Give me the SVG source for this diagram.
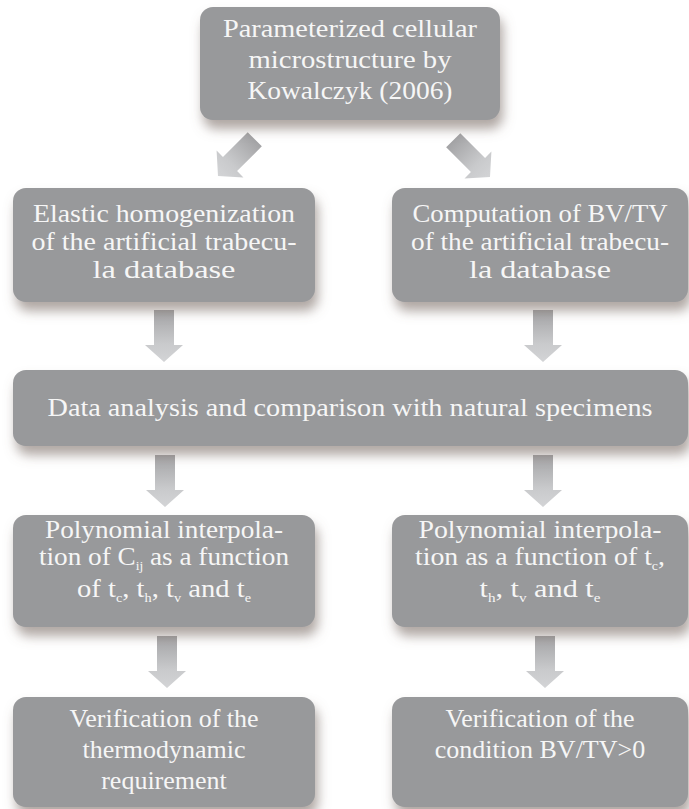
<svg xmlns="http://www.w3.org/2000/svg" width="689" height="809" viewBox="0 0 689 809">
<defs>
<linearGradient id="ag" x1="0" y1="0" x2="0" y2="1">
<stop offset="0" stop-color="#a3a3a5"/>
<stop offset="0.65" stop-color="#c9cacc"/>
<stop offset="1" stop-color="#d3d4d6"/>
</linearGradient>
<filter id="sh" x="-10%" y="-20%" width="125%" height="160%">
<feDropShadow dx="3" dy="9" stdDeviation="6" flood-color="#7a6d66" flood-opacity="0.6"/>
</filter>
<path id="arr" d="M-10,-52 H10 V-17 H19 L0,0 L-19,-17 H-10 Z"/>
</defs>
<style>
.box{fill:#98999b;filter:url(#sh)}
.t{font-family:"Liberation Serif","Times New Roman",serif;font-size:26px;fill:#f6f6f6;text-anchor:middle}
.s{font-size:13px}
.a{fill:url(#ag)}
</style>
<rect width="689" height="809" fill="#ffffff"/>
<g id="connectors">
<use href="#arr" class="a" transform="translate(218,176) rotate(45)"/>
<use href="#arr" class="a" transform="translate(490,177) rotate(-45)"/>
<use href="#arr" class="a" transform="translate(164,362)"/>
<use href="#arr" class="a" transform="translate(543,362)"/>
<use href="#arr" class="a" transform="translate(165,507)"/>
<use href="#arr" class="a" transform="translate(543,507)"/>
<use href="#arr" class="a" transform="translate(167,688)"/>
<use href="#arr" class="a" transform="translate(545,688)"/>
</g>
<g id="n1">
<rect class="box" x="200" y="7" width="300" height="113" rx="13"/>
<text class="t" x="350" y="37" textLength="254" lengthAdjust="spacingAndGlyphs">Parameterized cellular</text>
<text class="t" x="350" y="68" textLength="203" lengthAdjust="spacingAndGlyphs">microstructure by</text>
<text class="t" x="350" y="99" textLength="205" lengthAdjust="spacingAndGlyphs">Kowalczyk (2006)</text>
</g>
<g id="n2">
<rect class="box" x="13" y="188" width="302" height="114" rx="13"/>
<text class="t" x="164" y="222" textLength="262" lengthAdjust="spacingAndGlyphs">Elastic homogenization</text>
<text class="t" x="164" y="250" textLength="265" lengthAdjust="spacingAndGlyphs">of the artificial trabecu-</text>
<text class="t" x="164" y="278" textLength="143" lengthAdjust="spacingAndGlyphs">la database</text>
</g>
<g id="n3">
<rect class="box" x="392" y="188" width="296" height="114" rx="13"/>
<text class="t" x="540" y="222" textLength="255" lengthAdjust="spacingAndGlyphs">Computation of BV/TV</text>
<text class="t" x="540" y="250" textLength="258" lengthAdjust="spacingAndGlyphs">of the artificial trabecu-</text>
<text class="t" x="540" y="278" textLength="142" lengthAdjust="spacingAndGlyphs">la database</text>
</g>
<g id="n4">
<rect class="box" x="13" y="370" width="675" height="76" rx="13"/>
<text class="t" x="350" y="416" textLength="605" lengthAdjust="spacingAndGlyphs">Data analysis and comparison with natural specimens</text>
</g>
<g id="n5">
<rect class="box" x="13" y="515" width="302" height="112" rx="13"/>
<text class="t" x="164" y="538" textLength="238" lengthAdjust="spacingAndGlyphs">Polynomial interpola-</text>
<text class="t" x="164" y="565" textLength="250" lengthAdjust="spacingAndGlyphs">tion of C<tspan class="s" dy="5">ij</tspan><tspan dy="-5"> as a function</tspan></text>
<text class="t" x="164" y="597" textLength="174" lengthAdjust="spacingAndGlyphs">of t<tspan class="s" dy="5">c</tspan><tspan dy="-5">, t</tspan><tspan class="s" dy="5">h</tspan><tspan dy="-5">, t</tspan><tspan class="s" dy="5">v</tspan><tspan dy="-5"> and t</tspan><tspan class="s" dy="5">e</tspan></text>
</g>
<g id="n6">
<rect class="box" x="392" y="515" width="296" height="112" rx="13"/>
<text class="t" x="540" y="538" textLength="243" lengthAdjust="spacingAndGlyphs">Polynomial interpola-</text>
<text class="t" x="540" y="565" textLength="250" lengthAdjust="spacingAndGlyphs">tion as a function of t<tspan class="s" dy="5">c</tspan><tspan dy="-5">,</tspan></text>
<text class="t" x="540" y="597" textLength="121" lengthAdjust="spacingAndGlyphs">t<tspan class="s" dy="5">h</tspan><tspan dy="-5">, t</tspan><tspan class="s" dy="5">v</tspan><tspan dy="-5"> and t</tspan><tspan class="s" dy="5">e</tspan></text>
</g>
<g id="n7">
<rect class="box" x="13" y="697" width="302" height="110" rx="13"/>
<text class="t" x="164" y="727">Verification of the</text>
<text class="t" x="164" y="758">thermodynamic</text>
<text class="t" x="164" y="789">requirement</text>
</g>
<g id="n8">
<rect class="box" x="392" y="697" width="296" height="110" rx="13"/>
<text class="t" x="540" y="727">Verification of the</text>
<text class="t" x="540" y="758">condition BV/TV&gt;0</text>
</g>
</svg>
